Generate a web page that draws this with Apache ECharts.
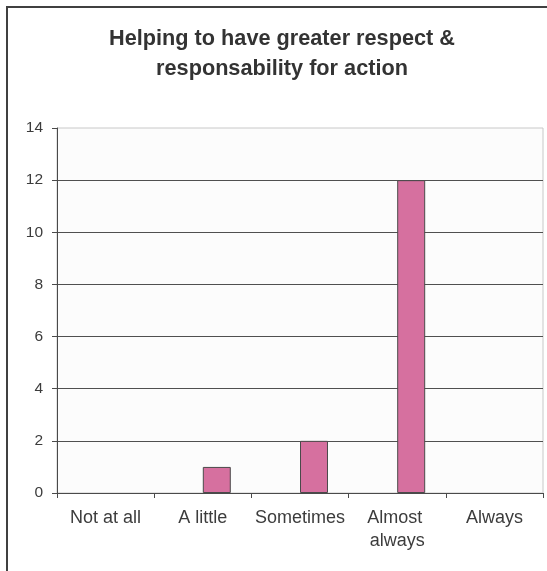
<!DOCTYPE html>
<html>
<head>
<meta charset="utf-8">
<script src="https://cdn.jsdelivr.net/npm/echarts@6/dist/echarts.min.js"></script>
<style>
html,body{margin:0;padding:0;background:#fff;}
#chart{width:547px;height:571px;}
</style>
</head>
<body>
<div id="chart"></div>
<script>
const titleLines = ['Helping to have greater respect &', 'responsability for action'];
const categories = ['Not at all', 'A little', 'Sometimes', 'Almost always', 'Always'];
const placeholderValues = [null, null, null, null, null];
const responseValues = [0, 1, 2, 12, 0];
const yTicks = [0, 2, 4, 6, 8, 10, 12, 14];

const chart = echarts.init(document.getElementById('chart'), null, {renderer: 'canvas'});
const FONT = '"Liberation Sans", Arial, Helvetica, sans-serif';
const barData = responseValues.map(v => v === 0
  ? {value: v, itemStyle: {borderWidth: 0, opacity: 0}}
  : {value: v});
chart.setOption({
  animation: false,
  backgroundColor: '#ffffff',
  title: {
    text: titleLines.join('\n'),
    left: 282,
    top: 24,
    padding: 0,
    textAlign: 'center',
    textStyle: {fontFamily: FONT, fontSize: 21.7, fontWeight: 'bold', color: '#333333', lineHeight: 30}
  },
  graphic: [{
    type: 'rect', silent: true, z: -10,
    shape: {x: 7, y: 7, width: 700, height: 700},
    style: {fill: 'none', stroke: '#404040', lineWidth: 2}
  }],
  grid: {
    left: 57, right: 4, top: 128, bottom: 78,
    show: true, backgroundColor: '#fcfcfc', borderColor: '#c8c8c8', borderWidth: 1
  },
  xAxis: {
    type: 'category',
    data: categories,
    axisLine: {show: true, lineStyle: {color: '#4a4a4a', width: 1}},
    axisTick: {show: true, length: 5, lineStyle: {color: '#4a4a4a'}},
    axisLabel: {
      fontFamily: FONT, fontSize: 18, color: '#3c3c3c', margin: 14, lineHeight: 23,
      width: 95, overflow: 'break', interval: 0
    },
    splitLine: {show: false}
  },
  yAxis: {
    type: 'value',
    min: yTicks[0], max: yTicks[yTicks.length - 1], interval: 2,
    axisLine: {show: true, lineStyle: {color: '#4a4a4a', width: 1}},
    axisTick: {show: true, length: 5, lineStyle: {color: '#4a4a4a'}},
    axisLabel: {fontFamily: FONT, fontSize: 15.5, color: '#3c3c3c', margin: 14},
    splitLine: {show: true, showMaxLine: false, lineStyle: {color: '#505050', width: 1}}
  },
  series: [{
    name: 'placeholder',
    type: 'bar',
    data: placeholderValues,
    barGap: '0%',
    barCategoryGap: '42.4%'
  }, {
    name: 'Responses',
    type: 'bar',
    data: barData,
    barGap: '0%',
    barCategoryGap: '42.4%',
    itemStyle: {color: '#d6709f', borderColor: '#4a4a4a', borderWidth: 1}
  }]
});
</script>
</body>
</html>
